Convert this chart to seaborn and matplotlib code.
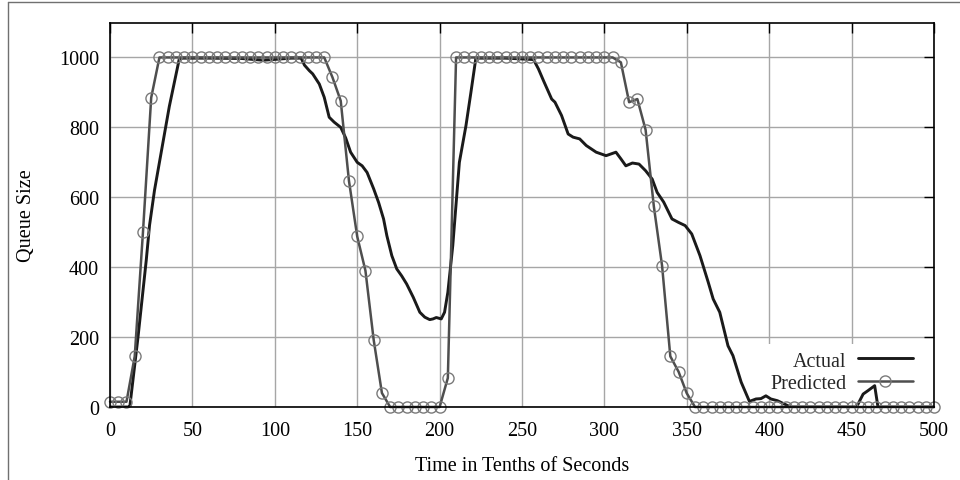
import matplotlib
matplotlib.use("Agg")
import matplotlib.pyplot as plt
import seaborn as sns
import pandas as pd
from matplotlib.lines import Line2D

# ---------------- data ----------------
actual_time = [0, 11, 12, 17, 22, 24, 27, 30, 36, 42, 44, 60, 80, 93, 110, 116, 118, 121,
               123, 127, 130, 133, 136, 140, 143, 146, 150, 153, 156, 160, 163, 166, 168,
               171, 174, 177, 180, 184, 188, 191, 194, 196, 198, 201, 203, 205, 208, 212,
               216, 219, 222, 240, 249, 257, 260, 263, 268, 270, 274, 278, 281, 285, 289,
               295, 301, 304, 307, 310, 313, 317, 321, 325, 329, 332, 336, 341, 345, 349,
               353, 358, 363, 366, 370, 375, 378, 383, 388, 392, 395, 398, 401, 405, 409,
               413, 453, 457, 460, 464, 466, 500]
actual_queue = [0, 0, 0, 200, 420, 520, 620, 700, 860, 995, 998, 998, 997, 992, 998, 998, 978, 962,
                953, 924, 886, 829, 815, 800, 770, 729, 700, 690, 671, 624, 585, 538, 490,
                433, 395, 375, 352, 314, 271, 257, 250, 252, 256, 252, 271, 328, 462, 700,
                805, 900, 998, 998, 996, 994, 967, 934, 881, 872, 834, 781, 772, 767, 748,
                729, 719, 724, 729, 710, 690, 698, 695, 676, 652, 614, 586, 538, 528, 519,
                495, 433, 357, 309, 271, 175, 147, 71, 16, 23, 24, 32, 23, 18, 9,
                0, 0, 37, 47, 61, 0, 0]

pred_time = list(range(0, 501, 5))
pred_queue = [15, 15, 15, 145, 500, 885,
              1000, 1000, 1000, 1000, 1000, 1000, 1000, 1000, 1000, 1000, 1000,
              1000, 1000, 1000, 1000, 1000, 1000, 1000, 1000, 1000, 1000,
              943, 876, 647, 488, 390, 192, 40,
              0, 0, 0, 0, 0, 0, 0,
              83,
              1000, 1000, 1000, 1000, 1000, 1000, 1000, 1000, 1000, 1000,
              1000, 1000, 1000, 1000, 1000, 1000, 1000, 1000, 1000, 1000,
              986, 872, 881, 793, 574, 404, 145, 101, 39,
              0, 0, 0, 0, 0, 0, 0, 0, 0, 0, 0, 0, 0, 0, 0,
              0, 0, 0, 0, 0, 0, 0, 0, 0, 0, 0, 0, 0, 0, 0]

x_ticks = [0, 50, 100, 150, 200, 250, 300, 350, 400, 450, 500]
y_ticks = [0, 200, 400, 600, 800, 1000]
series_labels = ["Actual", "Predicted"]

actual_df = pd.DataFrame({"time": actual_time, "queue": actual_queue})
pred_df = pd.DataFrame({"time": pred_time, "queue": pred_queue})

# ---------------- styling ----------------
sns.set_theme(style="white")
plt.rcParams["font.family"] = ["Liberation Serif", "DejaVu Serif"]

ACTUAL_C = "#1a1a1a"
PRED_C = "#4e4e4e"
MARK_C = "#7a7a7a"
FS = 14.5

fig = plt.figure(figsize=(9.6, 4.81), dpi=100)
ax = fig.add_axes([110 / 960, 73 / 481, 824 / 960, 384.5 / 481])

sns.lineplot(data=actual_df, x="time", y="queue", ax=ax, color=ACTUAL_C, lw=2.1,
             estimator=None, sort=False, legend=False)
sns.lineplot(data=pred_df, x="time", y="queue", ax=ax, color=PRED_C, lw=1.8,
             marker="o", markersize=8, markerfacecolor="none",
             markeredgecolor=MARK_C, markeredgewidth=1.0,
             estimator=None, sort=False, legend=False, clip_on=False)

ax.set_xlim(0, 500)
ax.set_ylim(0, 1100)
ax.set_xticks(x_ticks)
ax.set_yticks(y_ticks)
ax.set_xticklabels([str(t) for t in x_ticks])
ax.set_yticklabels([str(t) for t in y_ticks])

ax.grid(True, color="#a6a6a6", lw=1.0)
ax.set_axisbelow(True)
ax.tick_params(direction="in", length=7.5, width=1.0, color="black",
               top=True, right=True, labeltop=False, labelright=False,
               labelsize=FS, pad=8, labelcolor="black")
ax.tick_params(axis="x", pad=10)
for sp in ax.spines.values():
    sp.set_color("black")
    sp.set_linewidth(1.2)
    sp.set_visible(True)

ax.set_xlabel("Time in Tenths of Seconds", fontsize=FS, color="black")
ax.set_ylabel("Queue Size", fontsize=FS, color="black")
ax.xaxis.set_label_coords(0.5, -0.127)
ax.yaxis.set_label_coords(-0.09, 0.5)

handles = [Line2D([], [], color=ACTUAL_C, lw=2.1),
           Line2D([], [], color=PRED_C, lw=1.8, marker="o", markersize=8,
                  markerfacecolor="none", markeredgecolor=MARK_C, markeredgewidth=1.0)]
leg = ax.legend(handles, series_labels, loc="center right",
                bbox_to_anchor=(0.983, 0.091), markerfirst=False, numpoints=1,
                frameon=True, fancybox=False, framealpha=1, facecolor="white",
                edgecolor="none", borderpad=0.35, borderaxespad=0,
                handlelength=2.75, handletextpad=0.55, labelspacing=0.15,
                fontsize=FS)
leg.set_zorder(1.5)

# outer frame lines of the original image
fig.add_artist(Line2D([7.5 / 960, 7.5 / 960], [0, 1 - 2.5 / 481], transform=fig.transFigure,
                      color="#707070", lw=1.0))
fig.add_artist(Line2D([7.5 / 960, 1], [1 - 2.5 / 481, 1 - 2.5 / 481], transform=fig.transFigure,
                      color="#707070", lw=1.0))

fig.savefig("out.png", dpi=100)
